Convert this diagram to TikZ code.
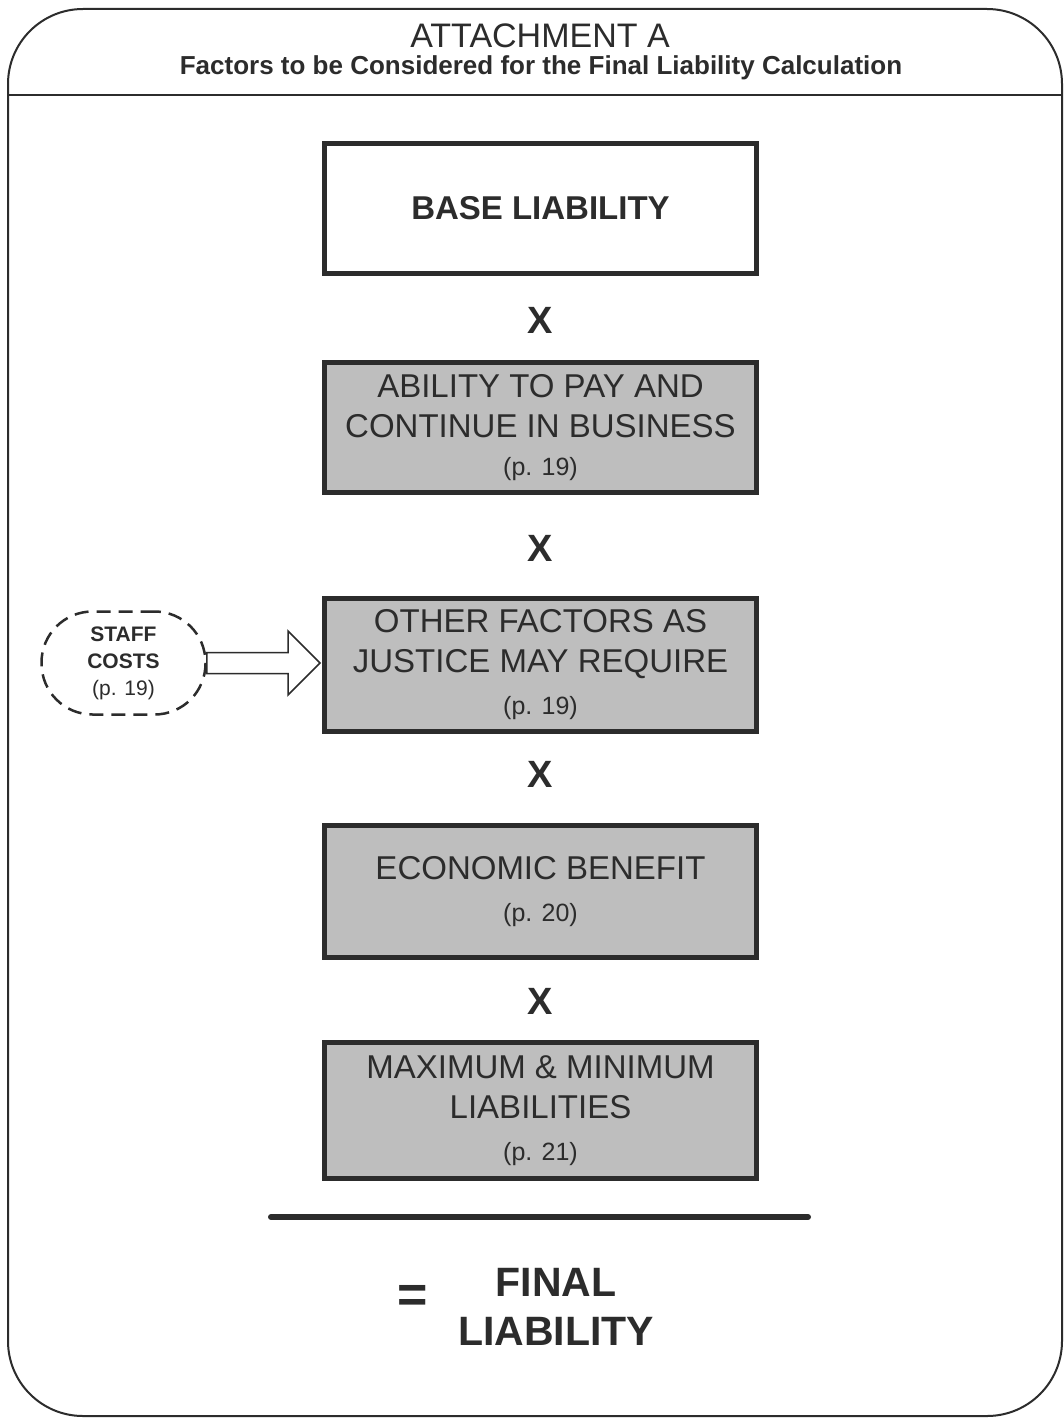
\documentclass[tikz,border=0pt]{standalone}
\usepackage{fontspec}
\setmainfont{Liberation Sans}
\usetikzlibrary{calc}
\definecolor{ink}{HTML}{2C2C2C}
\definecolor{boxgray}{HTML}{BEBEBE}
\begin{document}
\begin{tikzpicture}[x=1pt,y=-1pt,
  factorbox/.style={draw=ink, line width=5pt, minimum width=432pt, text=ink,
    align=center, inner sep=0pt},
  grayfactor/.style={factorbox, fill=boxgray,
    font=\fontsize{33}{40}\selectfont},
  timesmark/.style={text=ink, font=\bfseries\fontsize{38}{40}\selectfont, inner sep=0pt}]
\useasboundingbox (0,0) rectangle (1064,1418);
\fill[white] (0,0) rectangle (1064,1418);
% frame
\draw[ink, line width=2pt, rounded corners=75pt] (8,9) rectangle (1062,1416);
\draw[ink, line width=2pt] (8,95) -- (1062,95);
\node[text=ink, font=\fontsize{34}{36}\selectfont, inner sep=0pt] (title) at (540,36) {ATTACHMENT A};
\node[text=ink, font=\bfseries\fontsize{26}{30}\selectfont, inner sep=0pt] (subtitle) at (541,68) {Factors to be Considered for the Final Liability Calculation};
% boxes
\node[factorbox, fill=white, minimum height=130pt, font=\bfseries\fontsize{33}{40}\selectfont] (base) at (540.5,208.5) {BASE LIABILITY};
\node[timesmark] (x1) at (540.5,320) {X};
\node[grayfactor, minimum height=130pt] (ability) at (540.5,427.5) {ABILITY TO PAY AND\\CONTINUE IN BUSINESS\\[-2pt]{\fontsize{25}{30}\selectfont (p. 19)}};
\node[timesmark] (x2) at (540.5,548) {X};
\node[grayfactor, minimum height=133pt] (other) at (540.5,665) {OTHER FACTORS AS\\JUSTICE MAY REQUIRE\\[2pt]{\fontsize{25}{30}\selectfont (p. 19)}};
\node[timesmark] (x3) at (540.5,774) {X};
\node[grayfactor, minimum height=132pt] (econ) at (540.5,891.5) {ECONOMIC BENEFIT\\[2pt]{\fontsize{25}{30}\selectfont (p. 20)}};
\node[timesmark] (x4) at (540.5,1001) {X};
\node[grayfactor, minimum height=136pt] (maxmin) at (540.5,1110.5) {MAXIMUM \& MINIMUM\\LIABILITIES\\[2pt]{\fontsize{25}{30}\selectfont (p. 21)}};
% staff costs
\node[draw=ink, line width=2.5pt, dash pattern=on 14pt off 8pt, rounded corners=51pt,
  minimum width=164pt, minimum height=103pt, text=ink, align=center, inner sep=0pt,
  font=\fontsize{21}{27}\selectfont] (staff) at (123.5,663)
  {\textbf{STAFF}\\\textbf{COSTS}\\(p. 19)};
\draw[ink, line width=1.5pt, fill=white]
  let \p1=(staff.east), \p2=(other.west) in
  (\x1,\y1+10.5) -- (\x2-34,\y1+10.5) -- (\x2-34,\y1+32) -- (\x2-2,\y1) --
  (\x2-34,\y1-32) -- (\x2-34,\y1-10.5) -- (\x1,\y1-10.5) -- cycle;
% result
\draw[ink, line width=6pt, line cap=round] (271,1217) coordinate (ruleL) -- (808,1217) coordinate (ruleR);
\node[text=ink, font=\bfseries\fontsize{52}{54}\selectfont, inner sep=0pt] (equals) at (413,1299) {=};
\node[text=ink, font=\bfseries\fontsize{41}{49}\selectfont, align=center, inner sep=0pt] (final) at (556,1307) {FINAL\\LIABILITY};
\end{tikzpicture}
\end{document}
